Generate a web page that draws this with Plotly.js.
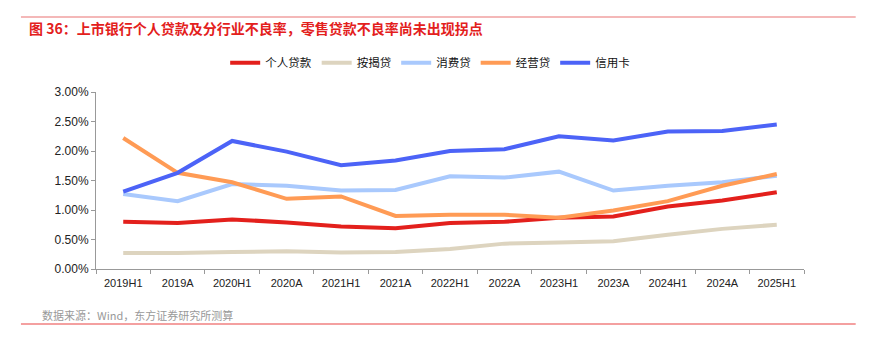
<!DOCTYPE html>
<html><head><meta charset="utf-8">
<script src="https://cdn.plot.ly/plotly-3.0.1.min.js"></script>
<style>html,body{margin:0;padding:0;background:#fff}#c{width:871px;height:348px}</style>
</head><body><div id="c"></div>
<script>
const categories = ["2019H1","2019A","2020H1","2020A","2021H1","2021A","2022H1","2022A","2023H1","2023A","2024H1","2024A","2025H1"];
const personalLoans = [0.80,0.78,0.84,0.79,0.72,0.69,0.78,0.80,0.87,0.89,1.06,1.16,1.30];
const mortgage      = [0.27,0.27,0.29,0.30,0.28,0.29,0.34,0.43,0.45,0.47,0.58,0.68,0.75];
const consumer      = [1.27,1.15,1.44,1.41,1.33,1.34,1.57,1.55,1.65,1.33,1.41,1.47,1.58];
const business      = [2.22,1.63,1.47,1.19,1.23,0.90,0.92,0.92,0.87,0.99,1.15,1.41,1.61];
const creditCard    = [1.31,1.63,2.17,1.99,1.76,1.84,2.00,2.03,2.25,2.18,2.33,2.34,2.45];
const seriesNames = ["个人贷款","按揭贷","消费贷","经营贷","信用卡"];
const seriesColors = ["#e3201c","#ddd4bf","#a9c9fd","#ff9b55","#4c63f7"];
const seriesData = [personalLoans, mortgage, consumer, business, creditCard];

const font = '"Liberation Sans", Arial, "Noto Sans CJK SC", sans-serif';
const traces = seriesData.map((d,i)=>({
  type:'scatter', mode:'lines', x:categories, y:d.map(v=>v/100), name:seriesNames[i],
  line:{color:seriesColors[i], width:4}
}));

const layout = {
  width:871, height:348,
  margin:{l:96, r:67, t:92, b:79},
  paper_bgcolor:'#fff', plot_bgcolor:'#fff',
  font:{family:font, size:11, color:'#222'},
  showlegend:true,
  legend:{orientation:'h', x:0.472, xanchor:'center', y:1.165, yanchor:'middle',
    font:{family:font, size:11.5, color:'#111'}, itemwidth:30, tracegroupgap:0},
  xaxis:{type:'category', range:[-0.5, categories.length-0.5], showline:true, linecolor:'#999', linewidth:1, showgrid:false,
    ticks:'outside', ticklen:4, tickcolor:'#999', tickson:'boundaries', zeroline:false, ticklabelstandoff:4,
    tickfont:{family:font, size:11, color:'#222'}, fixedrange:true},
  yaxis:{range:[0,0.03], dtick:0.005, tickformat:'.2%', showline:true, linecolor:'#999', linewidth:1,
    showgrid:false, ticks:'outside', ticklen:4, tickcolor:'#999', zeroline:false,
    tickfont:{family:font, size:12, color:'#222'}, fixedrange:true},
  shapes:[
    {type:'line', xref:'paper', yref:'paper', x0:-0.106, x1:1.073, y0:1.424, y1:1.424, line:{color:'#f0a0a0', width:1.5}},
    {type:'line', xref:'paper', yref:'paper', x0:-0.106, x1:1.073, y0:-0.311, y1:-0.311, line:{color:'#f08080', width:1.5}}
  ],
  annotations:[
    {xref:'paper', yref:'paper', x:-0.097, y:1.36, xanchor:'left', yanchor:'middle', showarrow:false,
      text:'<b>图 36：上市银行个人贷款及分行业不良率，零售贷款不良率尚未出现拐点</b>',
      font:{family:'"Noto Sans CJK SC", sans-serif', size:14, color:'#e3201c'}},
    {xref:'paper', yref:'paper', x:-0.079, y:-0.26, xanchor:'left', yanchor:'middle', showarrow:false,
      text:'数据来源：Wind，东方证券研究所测算',
      font:{family:'"Noto Sans CJK SC", sans-serif', size:11, color:'#999'}}
  ]
};
Plotly.newPlot('c', traces, layout, {displayModeBar:false, staticPlot:true});
</script></body></html>
